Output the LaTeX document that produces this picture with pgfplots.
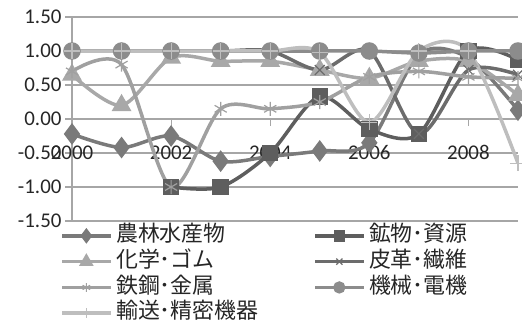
\documentclass[border=0pt]{standalone}
\usepackage{pgfplots}
\pgfplotsset{compat=1.18}
\usepackage{fontspec}
\setmainfont{Carlito}
\newfontfamily\jp{Noto Sans CJK JP}
\definecolor{cA}{HTML}{7A7A7A}
\definecolor{cB}{HTML}{5E5E5E}
\definecolor{cC}{HTML}{A8A8A8}
\definecolor{cD}{HTML}{6C6C6C}
\definecolor{cE}{HTML}{A0A0A0}
\definecolor{cF}{HTML}{8C8C8C}
\definecolor{cG}{HTML}{BEBEBE}
\definecolor{gridc}{HTML}{A6A6A6}
\definecolor{txt}{HTML}{262626}
\begin{document}
\begin{tikzpicture}
\begin{axis}[
  at={(0,0)}, anchor=south west,
  scale only axis, width=446bp, height=204bp,
  xmin=2000, xmax=2009, ymin=-1.5, ymax=1.5,
  separate axis lines,
  axis x line=middle, axis y line=left,
  axis line style={gridc, line width=1.2bp, -},
  hide obscured x ticks=false, hide obscured y ticks=false,
  xtick={2000,2002,2004,2006,2008},
  ytick={-1.5,-1,-0.5,0,0.5,1,1.5},
  ymajorgrids, grid style={gridc, line width=1.2bp},
  major tick length=7bp,
  tick style={gridc, line width=1.2bp},
  xtick align=outside, ytick align=outside,
  xticklabel style={yshift=-16bp},
  x tick label style={/pgf/number format/.cd, set thousands separator={}},
  y tick label style={/pgf/number format/.cd, fixed, fixed zerofill, precision=2},
  /pgf/number format/assume math mode=true,
  ticklabel style={font=\fontsize{21}{24}\selectfont, text=txt},
  every axis plot/.append style={smooth, tension=0.5, line width=3.5bp, mark size=7bp},
  legend columns=2,
  legend cell align=left,
  legend style={draw=none, fill=none, at={(-0.026,-0.01)}, anchor=north west,
    font=\fontsize{22}{24}\jp, text=txt, inner sep=0pt, row sep=0.6bp,
    nodes={inner xsep=2bp, inner ysep=1.85bp, text height=16.5bp, text depth=5bp},
    /tikz/every odd column/.append style={column sep=2bp},
    /tikz/every even column/.append style={column sep=53bp}},
  legend image code/.code={\draw[mark repeat=2, mark phase=2] plot coordinates {(0bp,0bp) (24bp,0bp) (48bp,0bp)};},
  legend image post style={/tikz/every mark/.append style={scale=0.62}},
]
\addplot[cA, mark=diamond*, mark options={solid, fill=cA}, mark size=8bp] coordinates {
(2000,-0.22) (2001,-0.42) (2002,-0.25) (2003,-0.62) (2004,-0.55) (2005,-0.47) (2006,-0.35) (2007,0.95) (2008,0.9) (2009,0.13)};
\addlegendentry{農林水産物}
\addplot[cB, mark=square*, mark options={solid, fill=cB}, mark size=6.5bp] coordinates {
(2002,-1.0) (2003,-1.0) (2004,-0.5) (2005,0.33) (2006,-0.15) (2007,-0.22) (2008,1.0) (2009,0.87)};
\addlegendentry{鉱物･資源}
\addplot[cC, mark=triangle*, mark options={solid, fill=cC}, mark size=8bp] coordinates {
(2000,0.65) (2001,0.2) (2002,0.9) (2003,0.85) (2004,0.85) (2005,0.72) (2006,0.6) (2007,0.85) (2008,0.85) (2009,0.35)};
\addlegendentry{化学･ゴム}
\addplot[cD, mark=x, mark options={solid, line width=1.2bp}] coordinates {
(2000,1.0) (2001,1.0) (2002,1.0) (2003,1.0) (2004,1.0) (2005,0.72) (2006,1.0) (2007,-0.22) (2008,0.72) (2009,0.65)};
\addlegendentry{皮革･繊維}
\addplot[cE, mark=asterisk, mark options={solid, line width=1.2bp}] coordinates {
(2000,0.7) (2001,0.8) (2002,-1.0) (2003,0.15) (2004,0.15) (2005,0.25) (2006,0.62) (2007,0.7) (2008,0.62) (2009,0.6)};
\addlegendentry{鉄鋼･金属}
\addplot[cF, mark=*, mark options={solid, fill=cF}] coordinates {
(2000,1.0) (2001,1.0) (2002,1.0) (2003,1.0) (2004,1.0) (2005,1.0) (2006,1.0) (2007,0.97) (2008,1.0) (2009,1.0)};
\addlegendentry{機械･電機}
\addplot[cG, mark=+, mark options={solid, line width=1.2bp}, mark size=8bp] coordinates {
(2000,1.0) (2001,1.0) (2002,1.0) (2003,1.0) (2004,1.0) (2005,0.98) (2006,-0.05) (2007,1.0) (2008,1.0) (2009,-0.65)};
\addlegendentry{輸送･精密機器}
\end{axis}
\pgfresetboundingbox
\useasboundingbox (-72bp,-100bp) rectangle (450bp,221bp);
\end{tikzpicture}
\end{document}
